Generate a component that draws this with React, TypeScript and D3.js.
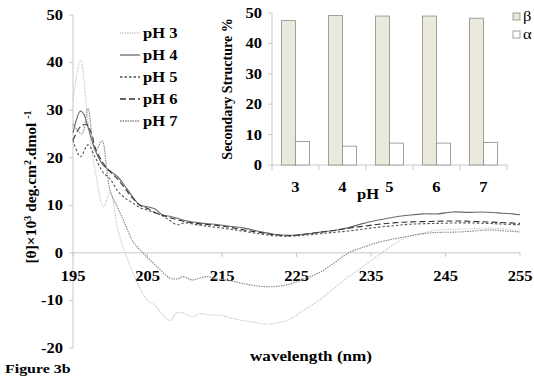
import React from "react";
import * as d3 from "d3";

// CD spectra, [wavelength nm, [θ]×10³]
const ph3: [number, number][] = [
  [195, 32], [196, 40.5], [197, 28], [198, 17], [199.1, 9.7], [200, 12.8], [201, 5], [202, 0],
  [203, -4], [204, -7.5], [205, -10], [206, -11], [207, -13], [208, -14.2], [209, -12.5],
  [210, -12.8], [211, -13.5], [212, -12.8], [213, -13], [215, -13.2], [217, -14], [219, -14.5],
  [221, -15], [223, -14.5], [224, -14], [226, -12], [228, -10], [230, -7.5], [232, -5],
  [234, -2.8], [236, -0.5], [238, 1.7], [240, 3.4], [242, 4.2], [244, 4.8], [247, 5],
  [249, 5.1], [251, 5.2], [253, 5], [255, 4.6],
];
const ph4: [number, number][] = [
  [195, 25.2], [196, 29.8], [196.5, 29], [197, 26.5], [198, 21.5], [199, 18.5], [200, 17.2],
  [201, 16], [202, 14], [203, 11.8], [204, 10], [205, 9.7], [206, 9.2], [207, 8], [208, 7.7],
  [210, 6.8], [212, 6.3], [214, 6], [216, 5.6], [218, 5.2], [220, 4.5], [222, 3.9], [224, 3.7],
  [226, 3.9], [228, 4.3], [230, 4.7], [232, 5.3], [234, 6.2], [236, 6.9], [238, 7.5], [240, 7.9],
  [242, 8.2], [244, 8.2], [246, 8.6], [248, 8.5], [250, 8.6], [252, 8.4], [254, 8.2], [255, 8],
];
const ph5: [number, number][] = [
  [195, 23.7], [196, 20.2], [197, 22.7], [198, 20], [199, 17], [200, 15.5], [201, 13],
  [202, 11.5], [203, 10.5], [204, 9.5], [205, 9], [206, 8.4], [207, 7.8], [208, 6.8], [209, 5.9],
  [210, 6.3], [212, 5.8], [214, 5.4], [216, 5], [218, 4.5], [220, 4], [222, 3.6], [224, 3.5],
  [226, 3.7], [228, 4], [230, 4.3], [232, 4.6], [234, 5], [236, 5.4], [238, 5.7], [240, 6],
  [244, 6.2], [248, 6.3], [252, 6.1], [255, 5.9],
];
const ph6: [number, number][] = [
  [195, 23.7], [196, 26.5], [196.8, 27], [197.5, 25], [198, 22], [199, 19], [200, 17],
  [201, 15.5], [202, 13.5], [203, 11.5], [204, 10], [205, 9.3], [206, 8.5], [207, 7.9],
  [208, 7.4], [210, 6.6], [212, 6.1], [214, 5.8], [216, 5.4], [218, 4.8], [220, 4.3], [222, 3.8],
  [224, 3.6], [226, 3.9], [228, 4.3], [230, 4.7], [232, 5.2], [234, 5.6], [236, 6], [238, 6.3],
  [240, 6.5], [243, 6.6], [246, 6.7], [249, 6.6], [252, 6.4], [255, 6.2],
];
const ph7: [number, number][] = [
  [195, 27], [196.2, 25], [197, 30.4], [198, 21.5], [198.9, 23.5], [199.5, 18], [200, 13],
  [201, 9.5], [202, 6], [203, 2.5], [204, 0.6], [205, -1], [206, -2.5], [207, -4], [208, -5.3],
  [209, -5.5], [209.8, -5], [211, -5.7], [212, -5.3], [213, -5], [214, -5.4], [216, -5.8],
  [218, -6.5], [220, -7], [222, -7.1], [224, -6.6], [226, -5.5], [228, -4.2], [230, -2.2],
  [232, 0], [234, 1.2], [236, 2.2], [238, 2.9], [240, 3.5], [243, 4.2], [247, 4.4], [251, 4.8],
  [253, 4.6], [255, 4.4],
];

const seriesNames = ["pH 3", "pH 4", "pH 5", "pH 6", "pH 7"];
const seriesData = [ph3, ph4, ph5, ph6, ph7];
const seriesColor = ["#c0c0c0", "#6a6a6a", "#555", "#333", "#858585"];
const seriesDash = ["1.2,1.2", "", "2.5,2", "6,3", "1.5,1"];

const xTicks = [195, 205, 215, 225, 235, 245, 255];
const yTicks = [-20, -10, 0, 10, 20, 30, 40, 50];

// secondary structure inset
const phLevels = ["3", "4", "5", "6", "7"];
const betaPct = [47.5, 49.2, 49.0, 49.0, 48.3];
const alphaPct = [7.7, 6.2, 7.2, 7.2, 7.4];
const structKeys = ["β", "α"];
const insetTicks = [0, 10, 20, 30, 40, 50];

const font = "Liberation Serif, Times New Roman, DejaVu Serif, serif";
const stretch = 1.18; // the source figure is a bit wider than tall

// horizontal text, widened like in the source figure
function HText({ x, y, anchor = "start", size = 14, dy = "0", weight, children }: any) {
  return (
    <text
      transform={`translate(${x},${y}) scale(${stretch},1)`}
      textAnchor={anchor}
      fontSize={size}
      dy={dy}
      fontWeight={weight}
    >
      {children}
    </text>
  );
}

export default function App() {
  const x = d3.scaleLinear().domain([195, 255]).range([73, 520]);
  const y = d3.scaleLinear().domain([-20, 50]).range([348, 15]);
  const line = d3
    .line<[number, number]>()
    .x((d) => x(d[0]))
    .y((d) => y(d[1]))
    .curve(d3.curveCatmullRom.alpha(0.5));

  const bx = d3.scaleBand().domain(phLevels).range([272, 507]).padding(0);
  const inner = d3.scaleBand().domain(structKeys).range([0, bx.bandwidth()]).paddingOuter(0.68);
  const by = d3.scaleLinear().domain([0, 50]).range([165, 13]);
  const barFill: Record<string, string> = { "β": "#ebe8dc", "α": "#ffffff" };
  const structVals: Record<string, number[]> = { "β": betaPct, "α": alphaPct };

  return (
    <svg
      width={534}
      height={376}
      style={{ position: "absolute", left: 0, top: 0, background: "#fff", fontFamily: font, fontWeight: "bold" }}
    >
      {/* main axes */}
      <line x1={x(195)} x2={x(195)} y1={y(50)} y2={y(-20)} stroke="#c8c8c8" />
      {yTicks.map((t) => (
        <g key={t}>
          <line x1={x(195) - 4} x2={x(195)} y1={y(t)} y2={y(t)} stroke="#c8c8c8" />
          <HText x={x(195) - 10} y={y(t)} dy="0.35em" anchor="end">
            {t}
          </HText>
        </g>
      ))}
      <line x1={x(195)} x2={x(255)} y1={y(0)} y2={y(0)} stroke="#c8c8c8" />
      {xTicks.map((t) => (
        <g key={t}>
          <line x1={x(t)} x2={x(t)} y1={y(0)} y2={y(0) + 4} stroke="#c8c8c8" />
          <HText x={x(t)} y={y(0) + 28} anchor="middle">
            {t}
          </HText>
        </g>
      ))}

      {/* spectra */}
      {seriesData.map((d, i) => (
        <path
          key={seriesNames[i]}
          d={line(d) || ""}
          fill="none"
          stroke={seriesColor[i]}
          strokeWidth={1.1}
          strokeDasharray={seriesDash[i] || undefined}
        />
      ))}

      {/* legend */}
      {seriesNames.map((n, i) => (
        <g key={n} transform={`translate(120,${33 + i * 22})`}>
          <line
            x1={0}
            x2={20}
            y1={0}
            y2={0}
            stroke={seriesColor[i]}
            strokeWidth={1.3}
            strokeDasharray={seriesDash[i] || undefined}
          />
          <HText x={23} y={0} dy="0.35em">
            {n}
          </HText>
        </g>
      ))}

      <text
        transform={`translate(36,187) rotate(-90)`}
        textAnchor="middle"
        fontSize={15.5}
      >
        [θ]×10<tspan dy={-5} fontSize={10}>3</tspan>
        <tspan dy={5}> deg.cm</tspan>
        <tspan dy={-5} fontSize={10}>2</tspan>
        <tspan dy={5}>.dmol </tspan>
        <tspan dy={-5} fontSize={10}>-1</tspan>
      </text>
      <HText x={311} y={361} anchor="middle" size={14.5}>
        wavelength (nm)
      </HText>
      <HText x={5} y={373} size={13.5}>
        Figure 3b
      </HText>

      {/* inset bar chart */}
      <line x1={272} x2={272} y1={by(50)} y2={by(0)} stroke="#c8c8c8" />
      {insetTicks.map((t) => (
        <g key={t}>
          <line x1={268} x2={272} y1={by(t)} y2={by(t)} stroke="#c8c8c8" />
          <HText x={262} y={by(t)} dy="0.35em" anchor="end">
            {t}
          </HText>
        </g>
      ))}
      <line x1={272} x2={507} y1={by(0)} y2={by(0)} stroke="#c8c8c8" />
      {[...phLevels.map((p) => bx(p) as number), 507].map((v, i) => (
        <line key={i} x1={v} x2={v} y1={by(0)} y2={by(0) + 5} stroke="#c8c8c8" />
      ))}
      {structKeys.map((k) =>
        phLevels.map((p, i) => (
          <rect
            key={k + p}
            x={(bx(p) as number) + (inner(k) as number)}
            y={by(structVals[k][i])}
            width={inner.bandwidth()}
            height={by(0) - by(structVals[k][i])}
            fill={barFill[k]}
            stroke="#8c8c8c"
            strokeWidth={0.8}
          />
        ))
      )}
      {phLevels.map((p) => (
        <HText key={p} x={(bx(p) as number) + bx.bandwidth() / 2} y={192} anchor="middle">
          {p}
        </HText>
      ))}
      <HText x={368} y={199} anchor="middle">
        pH
      </HText>
      <text
        transform={`translate(232,89) rotate(-90)`}
        textAnchor="middle"
        fontSize={14}
      >
        Secondary Structure %
      </text>
      {structKeys.map((k, i) => (
        <g key={k} transform={`translate(513,${13 + i * 18})`}>
          <rect width={7} height={7} fill={barFill[k]} stroke="#8c8c8c" strokeWidth={0.8} />
          <HText x={10} y={3.5} dy="0.35em" weight="normal">
            {k}
          </HText>
        </g>
      ))}
    </svg>
  );
}
